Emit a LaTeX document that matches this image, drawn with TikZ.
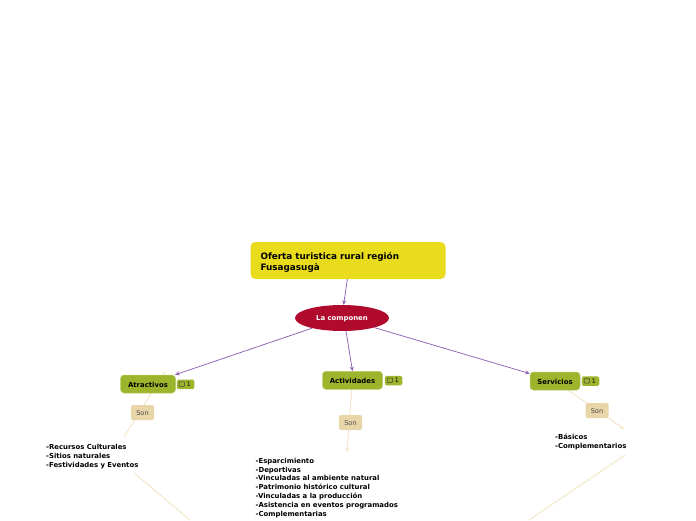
\documentclass[tikz,border=0pt]{standalone}
\usepackage{fontspec}
\setmainfont{DejaVu Sans}
\usetikzlibrary{shapes.geometric,backgrounds,arrows.meta,calc}
\definecolor{titley}{HTML}{E8DC1C}
\definecolor{redc}{HTML}{B00A2C}
\definecolor{greenc}{HTML}{9DB52C}
\definecolor{sonc}{HTML}{E8D5A8}
\definecolor{purp}{HTML}{9060B0}
\definecolor{pale}{HTML}{F2E4C4}
\tikzset{
  titlebox/.style={fill=titley,rounded corners=5pt,minimum width=195pt,minimum height=37pt,text width=175pt,align=left,inner sep=0pt,font=\fontsize{8.85}{11.2}\selectfont\bfseries},
  redell/.style={ellipse,fill=redc,text=white,minimum width=94pt,minimum height=26pt,inner sep=0pt,font=\fontsize{6.9}{8}\selectfont\bfseries},
  greenbox/.style={fill=greenc,draw=greenc!70!white,line width=.5pt,rounded corners=3.5pt,minimum height=18pt,inner sep=0pt,font=\fontsize{6.9}{8}\selectfont\bfseries},
  sonbox/.style={fill=sonc,rounded corners=2pt,minimum width=23pt,minimum height=15pt,inner sep=0pt,text=black!70,font=\fontsize{6.6}{8}\selectfont},
  badge/.style={fill=greenc,rounded corners=1.5pt,minimum width=17.5pt,minimum height=9.5pt,inner sep=0pt,font=\fontsize{6.2}{8}\selectfont},
  listtext/.style={anchor=north west,align=left,inner sep=0pt,font=\fontsize{6.9}{8.9}\selectfont\bfseries},
  purpline/.style={draw=purp,line width=.75pt,-{Stealth[length=4.5pt,width=4pt]}},
  paleline/.style={draw=pale,line width=.9pt},
  paletip/.style={paleline,-{Stealth[length=4pt,width=4pt]}},
  bubble/.style={draw=black!75,line width=.5pt,rounded corners=.8pt}
}
\newcommand{\bubbleat}[1]{\draw[bubble] ($(#1)+(-6.4,-2.5)$) rectangle ($(#1)+(-0.9,2)$);}
\newcommand{\dn}[2]{\raisebox{-#1}[\height][\depth]{#2}}
\begin{document}
\begin{tikzpicture}[x=1pt,y=-1pt]
\useasboundingbox (0,0) rectangle (696,520);
\node[titlebox] (title) at (348,260.5) {\dn{1.7pt}{Oferta turistica rural región}\\\dn{1.7pt}{Fusagasugà}};
\node[redell] (comp) at (342,318) {\dn{.9pt}{La componen}};
\node[greenbox,minimum width=55pt] (atr) at (148,384) {\dn{.5pt}{Atractivos}};
\node[greenbox,minimum width=60pt] (act) at (352.5,380.3) {\dn{.5pt}{Actividades}};
\node[greenbox,minimum width=50pt] (ser) at (555,381) {\dn{.5pt}{Servicios}};
\node[sonbox] (sona) at (142.5,412.5) {\dn{.5pt}{Son}};
\node[sonbox] (sonb) at (350.5,422.5) {\dn{.5pt}{Son}};
\node[sonbox] (sonc) at (597,410.5) {\dn{.5pt}{Son}};
\node[badge] (ba) at (185.5,384.3) {\hspace*{6.5pt}1};
\node[badge] (bb) at (393.5,380.5) {\hspace*{6.5pt}1};
\node[badge] (bc) at (590.5,381) {\hspace*{6.5pt}1};
\bubbleat{ba}\bubbleat{bb}\bubbleat{bc}
\node[listtext] (la) at (46,443.9) {-Recursos Culturales\\-Sitios naturales\\-Festividades y Eventos};
\node[listtext] (lb) at (255.5,457.7) {-Esparcimiento\\-Deportivas\\-Vinculadas al ambiente natural\\-Patrimonio histórico cultural\\-Vinculadas a la producción\\-Asistencia en eventos programados\\-Complementarias};
\node[listtext] (lc) at (555,434.2) {-Básicos\\-Complementarios};
\coordinate (a1) at (164.7,372);
\coordinate (a2) at (124,437);
\coordinate (a3) at (134,473);
\coordinate (a4) at (190,520);
\coordinate (b2) at (347,452);
\coordinate (c2) at (624,429);
\coordinate (c3) at (625,455);
\coordinate (c4) at (529,520);
\begin{pgfonlayer}{background}
\draw[paleline] (a1) -- (a2);
\draw[paleline] (a3) -- (a4);
\draw[paletip] (act.center) -- (b2);
\draw[paletip] (ser.center) -- (c2);
\draw[paleline] (c3) -- (c4);
\end{pgfonlayer}
\draw[purpline] (title.268) -- (comp.83);
\draw[purpline] (comp) -- (atr);
\draw[purpline] (comp.287) -- (act.north);
\draw[purpline] (comp) -- (ser);
\end{tikzpicture}
\end{document}
